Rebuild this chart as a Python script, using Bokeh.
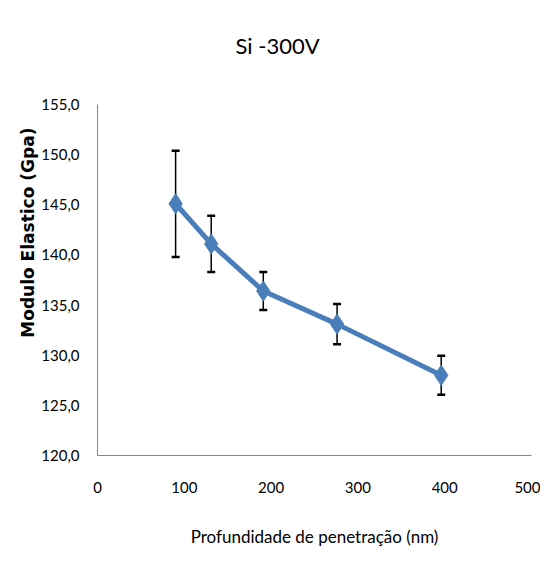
from bokeh.plotting import figure
from bokeh.models import ColumnDataSource, Whisker, TeeHead, FixedTicker, Title
from bokeh.embed import file_html
from bokeh.resources import INLINE

depth = [90, 131, 191, 276, 396]
modulus = [145.1, 141.1, 136.4, 133.1, 128.0]
err = [5.3, 2.8, 1.9, 2.0, 1.95]
x_ticks = [0, 100, 200, 300, 400, 500]
y_ticks = [120, 125, 130, 135, 140, 145, 150, 155]
y_labels = ["120,0", "125,0", "130,0", "135,0", "140,0", "145,0", "150,0", "155,0"]

src = ColumnDataSource(dict(
    x=depth, y=modulus,
    lo=[m - e for m, e in zip(modulus, err)],
    hi=[m + e for m, e in zip(modulus, err)],
))

font = "Lato"
NBSP = "\u00a0"

p = figure(width=540, height=564, output_backend="svg", toolbar_location=None,
           x_range=(0, 500), y_range=(120, 155),
           min_border_left=97, min_border_right=9, min_border_top=104, min_border_bottom=109)
p.title = None
# spacer between frame and title, then the title itself
p.add_layout(Title(text=NBSP, text_font=font, text_font_size="36px", standoff=0), "above")
p.add_layout(Title(text="Si -300V", text_font=font, text_font_size="22px",
                   text_font_style="normal", align="left", offset=138, standoff=0,
                   text_color="#000000"), "above")

p.outline_line_color = None
p.xgrid.visible = False
p.ygrid.visible = False

p.xaxis.ticker = FixedTicker(ticks=x_ticks)
p.yaxis.ticker = FixedTicker(ticks=y_ticks)
p.yaxis.major_label_overrides = {t: l for t, l in zip(y_ticks, y_labels)}
for ax in (p.xaxis, p.yaxis):
    ax.axis_line_color = "#868686"
    ax.major_tick_line_color = None
    ax.minor_tick_line_color = None
    ax.major_label_text_font = font
    ax.major_label_text_font_size = "15px"
    ax.major_label_text_color = "#000000"
p.xaxis.major_label_standoff = 20
p.yaxis.major_label_standoff = 12
p.xaxis.axis_label = "Profundidade de penetração (nm)"
p.xaxis.axis_label_text_font = font
p.xaxis.axis_label_text_font_size = "17px"
p.xaxis.axis_label_text_font_style = "normal"
p.xaxis.axis_label_text_color = "#000000"
p.xaxis.axis_label_standoff = 30
p.yaxis.axis_label = NBSP * 17 + "Modulo Elastico  (Gpa)"
p.yaxis.axis_label_text_font = "DejaVu Sans"
p.yaxis.axis_label_text_font_size = "17px"
p.yaxis.axis_label_text_font_style = "bold"
p.yaxis.axis_label_text_color = "#000000"
p.yaxis.axis_label_standoff = 0

w = Whisker(source=src, base="x", upper="hi", lower="lo", line_color="#000000", line_width=1.5,
            upper_head=TeeHead(size=8, line_color="#000000", line_width=2.5),
            lower_head=TeeHead(size=8, line_color="#000000", line_width=2.5))
p.add_layout(w)

p.line("x", "y", source=src, line_color="#4a7ebb", line_width=5)
p.scatter("x", "y", source=src, marker="diamond", size=20, fill_color="#4a7ebb", line_color="#4a7ebb")

open("out.html", "w").write(file_html(p, INLINE))
